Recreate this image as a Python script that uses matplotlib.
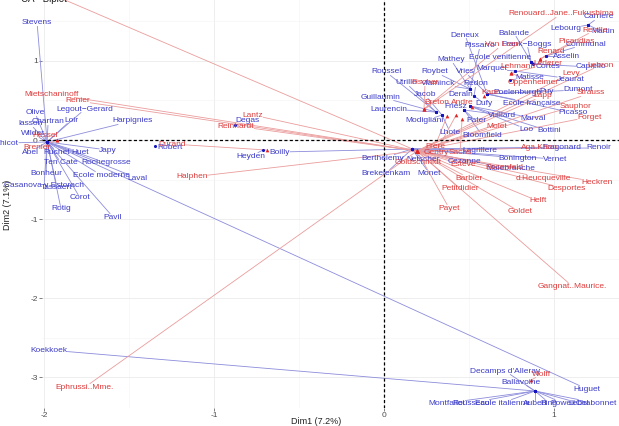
import numpy as np
import matplotlib
matplotlib.use("Agg")
import matplotlib.pyplot as plt
from matplotlib.ticker import MultipleLocator

plt.rcParams['font.family'] = ['Liberation Sans', 'DejaVu Sans']
plt.rcParams['axes.unicode_minus'] = False

# ---- rows (blue): name, Dim1, Dim2, label position ----
row_names = ['Stevens', 'Olive', 'lasson', 'Chartran', 'Loir', 'Legout\u2212Gerard', 'Harpignies',
             'Wilder', 'Chicot', 'Abel', 'Ruchet', 'Huet', 'Japy', 'Ten Cate', 'Rochegrosse',
             'Bonheur', 'Ecole moderne', 'Laval', 'Casanova y Estorach', 'Tassaert', 'Corot',
             'Rotig', 'Pavil', 'Huguet',
             'Robert', 'Degas', 'Heyden', 'Boilly', 'Koekkoek',
             'Carriere', 'Lebourg', 'Martin', 'Deneux', 'Balande', 'Pissarro', 'Frank\u2212Boggs',
             'Communal', 'Asselin', 'Mathey', 'Ecole venitienne', 'Capiello', 'Roussel', 'Roybet',
             'Vries', 'Marquet', 'Cortes', 'Matisse', 'Jeaurat', 'Utrillo', 'Vlaminck', 'Redon',
             'Poelenburgh', 'Puy', 'Dumont', 'Guillaumin', 'Jacob', 'Derain', 'Dufy',
             'Ecole française', 'Laurencin', 'Friesz', 'Vuillard', 'Marval', 'Picasso',
             'Modigliani', 'Pater', 'Loo', 'Bottini', 'Lhote', 'Bloomfield',
             'Lagrillere', 'Fragonard', 'Renoir', 'Berthelemy', 'Netscher', 'Cezanne',
             'Bonington', 'Vernet', 'Malebranche', 'Brekelenkam', 'Monet',
             "Decamps d'Alleray", 'Ballavoine', 'Montfallet', 'Rousseau', 'Ecole italienne',
             'Aubert', 'Bing', 'Powell', 'Lebel', 'Chabonnet']
row_x = [-1.982] * 24 + [-1.347, -0.876, -0.712, 0.165, 0.888,
         1.2, 1.2, 1.2, 0.606, 0.865, 0.506, 0.865,
         0.953, 0.953, 0.506, 0.865, 0.876, 0.306, 0.506,
         0.606, 0.771, 0.865, 0.741, 0.771, 0.306, 0.506, 0.529,
         0.606, 0.606, 0.606, 0.306, 0.341, 0.506, 0.529,
         0.606, 0.306, 0.471, 0.471, 0.506, 0.606,
         0.341, 0.471, 0.506, 0.506, 0.341, 0.471] + [0.165] * 11 + [0.888] * 10
row_y = [-0.025] * 24 + [-0.076, 0.19, -0.127, -0.114, -3.177,
         1.456, 1.456, 1.456, 0.582, 0.987, 0.646, 0.987,
         1.063, 1.063, 0.646, 0.987, 0.962, 0.354, 0.646,
         0.582, 0.873, 0.987, 0.759, 0.873, 0.354, 0.646, 0.557,
         0.582, 0.582, 0.582, 0.354, 0.316, 0.646, 0.557,
         0.582, 0.354, 0.380, 0.380, 0.430, 0.582,
         0.316, 0.380, 0.430, 0.430, 0.316, 0.380] + [-0.114] * 11 + [-3.177] * 10
row_lab_x = [-2.041, -2.053, -2.082, -1.976, -1.841, -1.759, -1.482,
             -2.065, -2.218, -2.082, -1.924, -1.788, -1.624, -1.9, -1.635,
             -1.988, -1.665, -1.453, -2.0, -1.924, -1.788,
             -1.9, -1.594, 1.194,
             -1.259, -0.806, -0.782, -0.612, -1.971,
             1.265, 1.071, 1.288, 0.476, 0.765, 0.565, 0.841,
             1.188, 1.071, 0.394, 0.682, 1.218, 0.012, 0.3,
             0.476, 0.635, 0.965, 0.859, 1.1, 0.129, 0.318, 0.541,
             0.782, 0.959, 1.141, -0.018, 0.241, 0.453, 0.588,
             0.871, 0.029, 0.424, 0.694, 0.876, 1.112,
             0.235, 0.541, 0.835, 0.971, 0.388, 0.576,
             0.565, 1.047, 1.265, -0.006, 0.229, 0.471,
             0.788, 1.006, 0.747, 0.012, 0.265,
             0.712, 0.806, 0.371, 0.512, 0.694,
             0.888, 0.971, 1.053, 1.147, 1.247]
row_lab_y = [1.481, 0.342, 0.203, 0.228, 0.253, 0.392, 0.241,
             0.076, -0.038, -0.152, -0.152, -0.152, -0.127, -0.291, -0.291,
             -0.430, -0.443, -0.481, -0.582, -0.595, -0.734,
             -0.873, -0.975, -3.152,
             -0.089, 0.253, -0.203, -0.152, -2.658,
             1.557, 1.405, 1.367, 1.329, 1.354, 1.190, 1.215,
             1.215, 1.063, 1.013, 1.038, 0.924, 0.861, 0.861,
             0.861, 0.899, 0.924, 0.797, 0.772, 0.722, 0.709, 0.709,
             0.595, 0.620, 0.633, 0.544, 0.570, 0.570, 0.468,
             0.468, 0.392, 0.418, 0.316, 0.278, 0.342,
             0.241, 0.241, 0.139, 0.114, 0.101, 0.063,
             -0.127, -0.089, -0.101, -0.228, -0.253, -0.266,
             -0.228, -0.241, -0.367, -0.418, -0.418,
             -2.924, -3.063, -3.329, -3.329, -3.329,
             -3.329, -3.329, -3.329, -3.329, -3.329]

# ---- columns (red) ----
col_names = ['Hessel', 'Brenier', 'Durand',
             'Mietschaninoff', 'Renier', 'Lantz', 'Reinhardt', 'Halphen', 'Ephrussi..Mme.',
             'Gangnat..Maurice.', 'Bernheim.Jeune', 'Aga.Khan', 'Goldschmidt', 'Esteve',
             'Rosenfeld', 'Barbier', 'd.Heucqueville', 'Heckren', 'Petitdidier', 'Desportes',
             'Helft', 'Payet', 'Goldet', 'Lebron', 'Levy', 'Strauss', 'Lapp', 'Sauphor',
             'Forget', 'Molet',
             'Frere', 'Gentry', 'Sachs', 'Renouard..Jane..Fukushima', 'Reville', 'Van Leer',
             'Picaudias', 'Renard', 'Lederer', 'Lehmann', 'Oppenheimer', 'Fischer', 'Kann',
             'Breton', 'Andre', 'Wolff']
col_x = [-1.924, -1.924, -0.688] + [0.194] * 27 + [
         0.371, 0.424, 0.459, 0.235, 0.918, 0.235,
         0.918, 0.918, 0.747, 0.747, 0.747, 0.235, 0.588,
         0.235, 0.518, 0.865]
col_y = [0.0, 0.0, -0.127] + [-0.139] * 27 + [
         0.304, 0.316, 0.266, 0.392, 1.025, 0.392,
         1.025, 1.025, 0.848, 0.848, 0.848, 0.392, 0.557,
         0.392, 0.418, -3.038]
col_lab_x = [-1.994, -2.041, -1.247,
             -1.953, -1.8, -0.771, -0.871, -1.129, -1.759,
             1.106, -2.041, 0.912, 0.2, 0.465,
             0.706, 0.5, 0.935, 1.253, 0.447, 1.076,
             0.906, 0.382, 0.8, 1.276, 1.1, 1.218, 0.935, 1.124,
             1.206, 0.665,
             0.3, 0.306, 0.447, 1.041, 1.241, 0.694,
             1.135, 0.982, 0.965, 0.788, 0.876, 0.241, 0.629,
             0.312, 0.459, 0.929]
col_lab_y = [0.063, -0.101, -0.051,
             0.582, 0.494, 0.316, 0.177, -0.468, -3.127,
             -1.848, 1.924, -0.101, -0.291, -0.316,
             -0.342, -0.481, -0.481, -0.532, -0.620, -0.620,
             -0.772, -0.861, -0.911, 0.949, 0.848, 0.595, 0.557, 0.430,
             0.291, 0.177,
             -0.076, -0.152, -0.152, 1.595, 1.392, 1.203,
             1.253, 1.114, 0.962, 0.924, 0.722, 0.722, 0.595,
             0.481, 0.481, -2.962]

blue_txt, blue_seg, blue_pt = '#3c3cc8', '#8c8cdc', '#1515c0'
red_txt, red_seg, red_pt = '#dd3c3c', '#eb9c9c', '#e02525'

fig = plt.figure(figsize=(6.19, 4.26), dpi=100)
ax = fig.add_axes([42 / 619, 18 / 426, 577 / 619, 408 / 426])
ax.set_xlim(-2.012, 1.382)
ax.set_ylim(-3.392, 1.772)
for s in ax.spines.values():
    s.set_visible(False)
ax.xaxis.set_major_locator(MultipleLocator(1))
ax.xaxis.set_minor_locator(MultipleLocator(0.5))
ax.yaxis.set_major_locator(MultipleLocator(1))
ax.yaxis.set_minor_locator(MultipleLocator(0.5))
ax.grid(which='major', color='#ebebeb', lw=0.6, zorder=0)
ax.grid(which='minor', color='#f3f3f3', lw=0.4, zorder=0)
ax.set_axisbelow(True)
ax.tick_params(which='major', length=2, width=0.5, color='#4d4d4d', labelsize=6,
               labelcolor='#4d4d4d', pad=1)
ax.tick_params(which='minor', length=0)
ax.axhline(0, color='black', lw=0.9, ls=(0, (2.5, 1.8)), zorder=2)
ax.axvline(0, color='black', lw=0.9, ls=(0, (2.5, 1.8)), zorder=2)

# points
ax.scatter(row_x, row_y, s=5, color=blue_pt, marker='o', zorder=3, linewidths=0)
ax.scatter(col_x, col_y, s=7, color=red_pt, marker='^', zorder=3, linewidths=0)

# labels
texts = []
for names, px, py, lx, ly, tc, sc in [
        (row_names, row_x, row_y, row_lab_x, row_lab_y, blue_txt, blue_seg),
        (col_names, col_x, col_y, col_lab_x, col_lab_y, red_txt, red_seg)]:
    for n, x, y, a, b in zip(names, px, py, lx, ly):
        t = ax.text(a, b, n, ha='center', va='center', fontsize=6, color=tc,
                    clip_on=False, zorder=4)
        texts.append((t, x, y, sc))

# segments from label box edge to its point (repel style)
fig.canvas.draw()
rend = fig.canvas.get_renderer()
inv = ax.transData.inverted()
for t, x, y, sc in texts:
    bb = t.get_window_extent(rend).expanded(1.0, 1.0)
    c = np.array([(bb.x0 + bb.x1) / 2, (bb.y0 + bb.y1) / 2])
    p = ax.transData.transform((x, y))
    d = p - c
    if bb.x0 - 1 <= p[0] <= bb.x1 + 1 and bb.y0 - 1 <= p[1] <= bb.y1 + 1:
        continue
    ts = []
    if d[0] != 0:
        ts.append(((bb.x1 if d[0] > 0 else bb.x0) - c[0]) / d[0])
    if d[1] != 0:
        ts.append(((bb.y1 if d[1] > 0 else bb.y0) - c[1]) / d[1])
    te = min(ts)
    start = c + te * d
    if np.hypot(*(p - start)) < 4:
        continue
    seg = inv.transform([start, p])
    ax.plot(seg[:, 0], seg[:, 1], color=sc, lw=0.6, zorder=1, clip_on=False)

fig.text(316 / 619, 1 - 422 / 426, 'Dim1 (7.2%)', ha='center', va='center', fontsize=6.5,
         color='#222222')
fig.text(8 / 619, 1 - 205 / 426, 'Dim2 (7.1%)', ha='center', va='center', rotation=90,
         fontsize=6.5, color='#222222')
fig.text(21 / 619, 1 - 2 / 426, 'CA - Biplot', ha='left', va='baseline', fontsize=7,
         color='#222222')

fig.savefig('out.png', dpi=100)
